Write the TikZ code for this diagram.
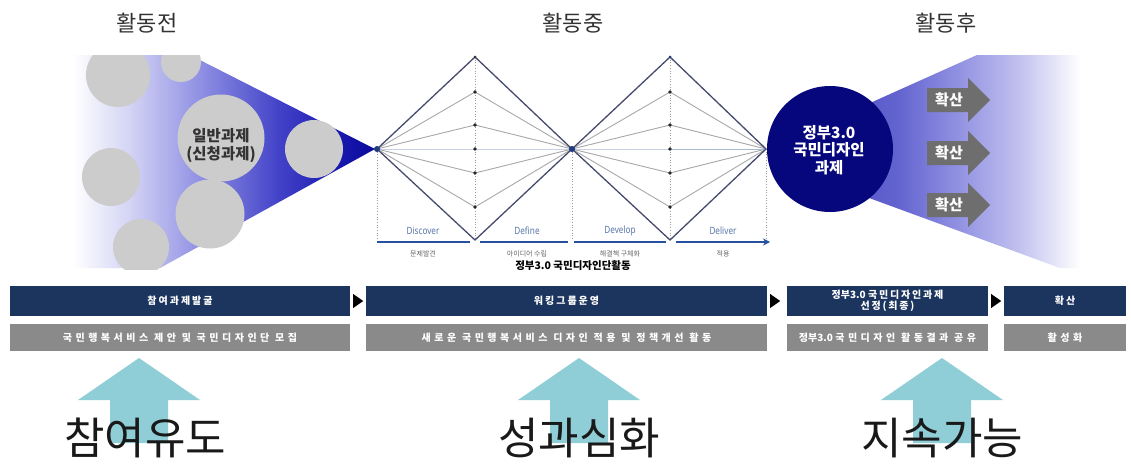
\documentclass[tikz,border=0pt]{standalone}
\usepackage{fontspec}
\setmainfont{Noto Sans CJK KR}
\newfontfamily\spc[LetterSpace=20]{Noto Sans CJK KR}
\newfontfamily\spcw[LetterSpace=35]{Noto Sans CJK KR}
\newfontfamily\spcn[LetterSpace=18]{Noto Sans CJK KR}
\newfontfamily\narrowf[FakeStretch=0.82]{Noto Sans}
\usetikzlibrary{arrows.meta}
\definecolor{titlegray}{RGB}{50,50,50}
\definecolor{bigtxt}{RGB}{25,25,25}
\definecolor{circgray}{RGB}{204,204,204}
\definecolor{navycirc}{RGB}{6,6,125}
\definecolor{arrowgray}{RGB}{110,110,110}
\definecolor{boxnavy}{RGB}{28,53,94}
\definecolor{boxgray}{RGB}{138,138,138}
\definecolor{upteal}{RGB}{143,206,214}
\definecolor{outerline}{RGB}{70,75,110}
\definecolor{innerline}{RGB}{168,168,172}
\definecolor{midline}{RGB}{170,185,210}
\definecolor{tlblue}{RGB}{40,80,160}
\definecolor{phaseblue}{RGB}{90,120,170}
\definecolor{dotnavy}{RGB}{30,60,128}
\definecolor{lfA}{RGB}{212,212,245}
\definecolor{lfB}{RGB}{145,145,228}
\definecolor{lfC}{RGB}{65,65,200}
\definecolor{lfD}{RGB}{25,25,175}
\definecolor{lfE}{RGB}{10,10,155}
\definecolor{rfA}{RGB}{85,85,200}
\definecolor{rfB}{RGB}{100,100,208}
\definecolor{rfC}{RGB}{145,145,226}
\definecolor{rfD}{RGB}{195,195,240}
\definecolor{rfE}{RGB}{235,235,250}
\pgfdeclarehorizontalshading{leftfade}{100bp}{color(0bp)=(white); color(25bp)=(white); color(27bp)=(white); color(36bp)=(lfA); color(47bp)=(lfB); color(60bp)=(lfC); color(69bp)=(lfD); color(75bp)=(lfE); color(100bp)=(lfE)}
\pgfdeclarehorizontalshading{rightfade}{100bp}{color(0bp)=(rfA); color(25bp)=(rfA); color(35bp)=(rfB); color(47bp)=(rfC); color(60bp)=(rfD); color(68bp)=(rfE); color(72bp)=(white); color(100bp)=(white)}
\begin{document}
\begin{tikzpicture}[x=1pt,y=-1pt,
  title/.style={font=\fontsize{22}{26}\selectfont, text=titlegray},
  bigtext/.style={font=\fontsize{44}{50}\selectfont, text=bigtxt},
  gcirc/.style={circle, fill=circgray, inner sep=0pt},
  navybox/.style={fill=boxnavy, text=white, font=\spc\bfseries\fontsize{10}{12}\selectfont, inner sep=0pt, align=center},
  graybox/.style={fill=boxgray, text=white, font=\spcw\bfseries\fontsize{10}{12}\selectfont, inner sep=0pt, align=center},
  mk/.style={fill=black},
  phase/.style={font=\narrowf\fontsize{10}{12}\selectfont, text=phaseblue},
  phasekr/.style={font=\fontsize{7}{8}\selectfont, text=black!60},
  outer/.style={draw=outerline, line width=1.3pt},
  inner/.style={draw=innerline, line width=0.9pt},
  vdot/.style={draw=black!40, dotted, line width=0.7pt},
  tl/.style={draw=tlblue, line width=1.8pt},
  spreadarrow/.style={fill=arrowgray},
  uparrow/.style={fill=upteal}
]
\useasboundingbox (0,0) rectangle (1131,466);
\fill[white] (0,0) rectangle (1131,466);

% titles
\node[title] (h1) at (147,23) {활동전};
\node[title] (h2) at (573,23) {활동중};
\node[title] (h3) at (946,23) {활동후};

% left cone
\shade[shading=leftfade] (60,55) -- (190,55) -- (375,149) -- (160,268) -- (60,268) -- cycle;
\begin{scope}
\clip (0,55) rectangle (400,269);
\node[gcirc, minimum size=64pt] (c1) at (118,75) {};
\node[gcirc, minimum size=40pt] (c2) at (181,62) {};
\node[gcirc, minimum size=87pt] (c3) at (221,138) {};
\node[gcirc, minimum size=58pt] (c4) at (314,149) {};
\node[gcirc, minimum size=58pt] (c5) at (111,177) {};
\node[gcirc, minimum size=69pt] (c6) at (210,214) {};
\node[gcirc, minimum size=56pt] (c7) at (141,247) {};
\end{scope}
\node[font=\bfseries\fontsize{15.5}{18}\selectfont, text=black!80, align=center] (c3t) at (221,146) {일반과제\\(신청과제)};

% double diamond
\coordinate (L) at (377,149);
\coordinate (M) at (572,149);
\coordinate (R) at (766,149);
\coordinate (T1) at (475,57);
\coordinate (B1) at (475,240);
\coordinate (T2) at (670,57);
\coordinate (B2) at (670,240);
\foreach \n/\y in {a/92,b/125,c/149,d/173,e/207}{
  \coordinate (P1\n) at (475,\y);
  \coordinate (P2\n) at (670,\y);
}
\coordinate (LB) at (377,240);
\coordinate (MB) at (572,240);
\coordinate (RB) at (766,240);
\draw[vdot] (L) -- (LB);
\draw[vdot] (M) -- (MB);
\draw[vdot] (R) -- (RB);
\draw[vdot] (T1) -- (B1);
\draw[vdot] (T2) -- (B2);
\foreach \n in {a,b,d,e}{
  \draw[inner] (L) -- (P1\n) -- (M);
  \draw[inner] (M) -- (P2\n) -- (R);
}
\draw[draw=midline, line width=1pt] (L) -- (M) -- (R);
\draw[outer] (L) -- (T1) -- (M) -- (B1) -- cycle;
\draw[outer] (M) -- (T2) -- (R) -- (B2) -- cycle;
\foreach \n in {a,b,c,d,e}{
  \fill[black!85] (P1\n) circle (1.8pt);
  \fill[black!85] (P2\n) circle (1.8pt);
}
\fill[black!80] (T1) circle (1.5pt);
\fill[dotnavy] (T2) circle (1.5pt);
\fill[dotnavy] (L) circle (3pt);
\fill[dotnavy] (M) circle (3pt);

% timeline
\coordinate (s1a) at (377,242); \coordinate (s1b) at (470,242);
\coordinate (s2a) at (480,242); \coordinate (s2b) at (568,242);
\coordinate (s3a) at (574,242); \coordinate (s3b) at (666,242);
\coordinate (s4a) at (676,242); \coordinate (s4b) at (770,242);
\draw[tl] (s1a) -- (s1b);
\draw[tl] (s2a) -- (s2b);
\draw[tl] (s3a) -- (s3b);
\draw[tl, -{Stealth[length=7pt,width=7pt]}] (s4a) -- (s4b);

\node[phase] (p1) at (423,231) {Discover};
\node[phase] (p2) at (527,231) {Define};
\node[phase] (p3) at (620,231) {Develop};
\node[phase] (p4) at (723,231) {Deliver};
\node[phasekr] (k1) at (423,254) {문제발견};
\node[phasekr] (k2) at (527,254) {아이디어 수립};
\node[phasekr] (k3) at (620,254) {해결책 구체화};
\node[phasekr] (k4) at (723,254) {적용};
\node[font=\bfseries\fontsize{10.5}{12}\selectfont, text=black] (act) at (573,266) {정부3.0 국민디자인단활동};

% right cone
\shade[shading=rightfade] (850,112) -- (977,55) -- (1095,55) -- (1095,268) -- (1060,268) -- (850,191) -- cycle;
\node[circle, fill=navycirc, minimum size=126pt, inner sep=0pt] (gc) at (830,149) {};
\node[font=\bfseries\fontsize{15.5}{17.5}\selectfont, text=white, align=center] (gct) at (829,150) {정부3.0\\국민디자인\\과제};
\foreach \c/\nm in {100/x1,153/x2,205/x3}{
  \fill[spreadarrow] (927,\c-12) -- (968,\c-12) -- (968,\c-22) -- (990,\c) -- (968,\c+22) -- (968,\c+12) -- (927,\c+12) -- cycle;
  \node[font=\bfseries\fontsize{15}{17}\selectfont, text=white] (\nm) at (949,\c) {확산};
}

% boxes
\node[navybox, minimum width=340pt, minimum height=30pt] (b1) at (180,301) {참여과제발굴};
\node[navybox, minimum width=401pt, minimum height=30pt] (b2) at (566.5,301) {워킹그룹운영};
\node[navybox, minimum width=201pt, minimum height=30pt, font=\bfseries\fontsize{10}{11.5}\selectfont] (b3) at (887.5,301) {정부3.0\ {\spcn 국민디자인과제}\\{\spcn 선정(최종)}};
\node[navybox, minimum width=122pt, minimum height=30pt] (b4) at (1065,301) {확산};
\node[graybox, minimum width=340pt, minimum height=27pt] (g1) at (180,337.5) {국민행복서비스 제안 및 국민디자인단 모집};
\node[graybox, minimum width=401pt, minimum height=27pt] (g2) at (566.5,337.5) {새로운 국민행복서비스 디자인 적용 및 정책개선 활동};
\node[graybox, minimum width=201pt, minimum height=27pt, font=\bfseries\fontsize{10}{12}\selectfont] (g3) at (887.5,337.5) {정부3.0\ {\spcw 국민디자인 활동결과 공유}};
\node[graybox, minimum width=122pt, minimum height=27pt] (g4) at (1065,337.5) {활성화};
\foreach \b in {b1,b2,b3}{
  \fill[mk] ([xshift=3pt,yshift=7pt]\b.east) -- ([xshift=13pt]\b.east) -- ([xshift=3pt,yshift=-7pt]\b.east) -- cycle;
}

% up arrows
\foreach \cx in {139,579,942}{
  \fill[uparrow] (\cx,358) -- (\cx+61,400) -- (\cx+29,400) -- (\cx+29,443) -- (\cx-29,443) -- (\cx-29,400) -- (\cx-61,400) -- cycle;
}
\node[bigtext] (w1) at (145,438) {참여유도};
\node[bigtext] (w2) at (579,438) {성과심화};
\node[bigtext] (w3) at (942,438) {지속가능};
\end{tikzpicture}
\end{document}
